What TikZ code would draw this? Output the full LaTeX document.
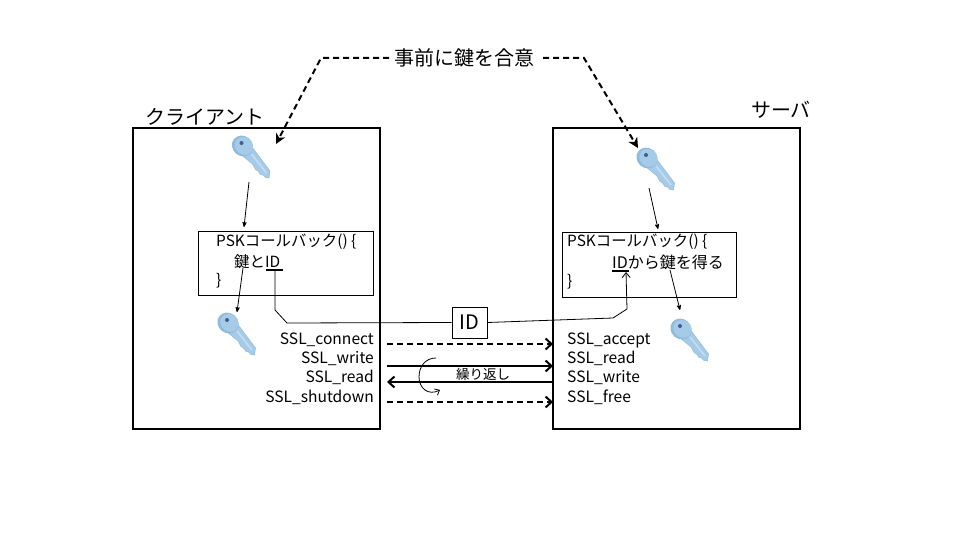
\documentclass[tikz,border=0pt]{standalone}
\usepackage{fontspec}
\setmainfont{Noto Sans CJK JP}
\usetikzlibrary{arrows,arrows.meta,positioning}
\definecolor{keyblue}{HTML}{A5CBE8}
\definecolor{keydark}{HTML}{8FBCDD}
\definecolor{keylight}{HTML}{C6DDF0}
\definecolor{keyhole}{HTML}{3F5F88}
\tikzset{
  host_box/.style = {draw=black, line width=2pt, inner sep=0pt, minimum width=247pt, minimum height=301pt},
  psk_box/.style = {draw=black, line width=1pt, inner sep=0pt},
  id_box/.style = {draw=black, line width=1pt, fill=white, inner sep=0pt, minimum width=35pt, minimum height=31pt, font=\fontsize{20}{20}\selectfont},
  big_txt/.style = {inner sep=0pt, font=\fontsize{20}{20}\selectfont},
  code_txt/.style = {inner sep=0pt, anchor=west, font=\fontsize{15.4}{16}\selectfont},
  ssl_txt/.style = {inner sep=0pt, text height=12pt, text depth=4pt, minimum height=19pt, font=\fontsize{15.6}{16}\selectfont},
  thin_arr/.style = {-stealth', line width=0.8pt},
  agree_arr/.style = {-{Stealth[length=10pt,width=10pt,inset=3pt]}, line width=2pt, dash pattern=on 6pt off 4pt},
  msg_arr/.style = {-{Straight Barb[length=6pt,width=11pt]}, line width=2pt},
  msg_dash/.style = {-{Straight Barb[length=6pt,width=11pt]}, line width=2pt, dash pattern=on 6pt off 4pt},
  under_id/.style = {line width=2pt},
  key_icon/.pic = {
    \fill [keyblue, draw=keydark, line width=0.5pt] (8,-1) -- (27.5,25) -- (26.5,32) -- (23,31.5) -- (20.5,29) -- (18,28.5) -- (15.5,25) -- (13,23.5) -- (10,18) -- (-1,9) -- cycle;
    \draw [keylight, line width=1.6pt] (9,8) -- (24,27);
    \fill [keydark, rotate=-40] (0,0) ellipse (11 and 10);
    \fill [keyblue, rotate=-40] (1,-1) ellipse (9.5 and 8.5);
    \fill [keyhole] (-1,-3) circle (2);
  }
}
\begin{document}
\begin{tikzpicture}[x=1pt,y=-1pt]
        \useasboundingbox (0,0) rectangle (960,540);

        \node [host_box](client) at (256.5,278.5){};
        \node [host_box](server) at (676.5,278.5){};
        \node [big_txt, anchor=center](clientname) at (205,117){クライアント};
        \node [big_txt, anchor=center](servername) at (781,110){サーバ};
        \node [big_txt](agree) at (464,58){事前に鍵を合意};

        \pic at (242.5,146) {key_icon};
        \pic at (228,323) {key_icon};
        \pic at (647,158) {key_icon};
        \pic at (681,329) {key_icon};

        % client callback
        \node [psk_box, minimum width=175pt, minimum height=64pt](clientpsk) at (285.5,263){};
        \node [code_txt](clientA) at (216,242){PSKコールバック() \{};
        \node [code_txt](clientB) at (234,262){鍵とID};
        \node [code_txt](clientC) at (216,281){\}};

        % server callback
        \node [psk_box, minimum width=174pt, minimum height=65pt](serverpsk) at (649,264.5){};
        \node [code_txt](serverA) at (567,242){PSKコールバック() \{};
        \node [code_txt, font=\fontsize{16}{16}\selectfont](serverB) at (612,262){IDから鍵を得る};
        \node [code_txt](serverC) at (567,282){\}};

        \node [id_box](idtag) at (469.5,322.5){ID};

        % function names
        \node [ssl_txt, anchor=east](connect) at (374,340){SSL\_connect};
        \node [ssl_txt, anchor=north east](write) at (connect.south east){SSL\_write};
        \node [ssl_txt, anchor=north east](read) at (write.south east){SSL\_read};
        \node [ssl_txt, anchor=north east](shutdown) at (read.south east){SSL\_shutdown};
        \node [ssl_txt, anchor=west](accept) at (567,340){SSL\_accept};
        \node [ssl_txt, anchor=north west](sread) at (accept.south west){SSL\_read};
        \node [ssl_txt, anchor=north west](swrite) at (sread.south west){SSL\_write};
        \node [ssl_txt, anchor=north west](free) at (swrite.south west){SSL\_free};
        \node [inner sep=0pt, font=\fontsize{13.5}{14}\selectfont](repeat) at (483,374){繰り返し};

        \coordinate (agreeL) at (389,58);
        \coordinate (agreeLc) at (321,58);
        \coordinate (agreeLe) at (276,144);
        \coordinate (agreeR) at (543,58);
        \coordinate (agreeRc) at (584,58);
        \coordinate (agreeRe) at (638,148);
        \draw [agree_arr] (agreeL) -- (agreeLc) -- (agreeLe);
        \draw [agree_arr] (agreeR) -- (agreeRc) -- (agreeRe);

        \coordinate (keyAout) at (249,182);
        \coordinate (pskAin) at (244,227);
        \coordinate (pskAout) at (243,268);
        \coordinate (keyBin) at (237,312);
        \coordinate (keyCout) at (649,188);
        \coordinate (pskBin) at (658,229);
        \coordinate (pskBout) at (670,270);
        \coordinate (keyDin) at (680,310);
        \draw [thin_arr] (keyAout) -- (pskAin);
        \draw [thin_arr] (pskAout) -- (keyBin);
        \draw [thin_arr] (keyCout) -- (pskBin);
        \draw [thin_arr] (pskBout) -- (keyDin);

        % the ID goes across
        \coordinate (idAa) at (266,270);
        \coordinate (idAb) at (283,270);
        \coordinate (idAm) at (275,270);
        \coordinate (idBa) at (612,271);
        \coordinate (idBb) at (629,271);
        \coordinate (idBm) at (626,272);
        \draw [under_id] (idAa) -- (idAb);
        \draw [under_id] (idBa) -- (idBb);
        \draw [line width=0.8pt] (idAm) -- (275,310) -- (287,323) -- (idtag.west);
        \draw [-{Straight Barb[length=5pt,width=8pt]}, line width=0.8pt] (idtag.east) -- (613,318) -- (627,309) -- (idBm);

        % messages
        \coordinate (msgAl) at (387,344);
        \coordinate (msgAr) at (553,344);
        \coordinate (msgBl) at (387,366);
        \coordinate (msgBr) at (553,366);
        \coordinate (msgCl) at (387,382);
        \coordinate (msgCr) at (553,382);
        \coordinate (msgDl) at (387,402);
        \coordinate (msgDr) at (553,402);
        \draw [msg_dash] (msgAl) -- (msgAr);
        \draw [msg_arr] (msgBl) -- (msgBr);
        \draw [msg_arr] (msgCr) -- (msgCl);
        \draw [msg_dash] (msgDl) -- (msgDr);

        \coordinate (loopS) at (436,358);
        \coordinate (loopE) at (440,390);
        \draw [-{Straight Barb[length=4pt,width=7pt]}, line width=0.8pt] (loopS) .. controls (425,358) and (419,367) .. (419,377) .. controls (419,388) and (428,396) .. (loopE);

\end{tikzpicture}
\end{document}
